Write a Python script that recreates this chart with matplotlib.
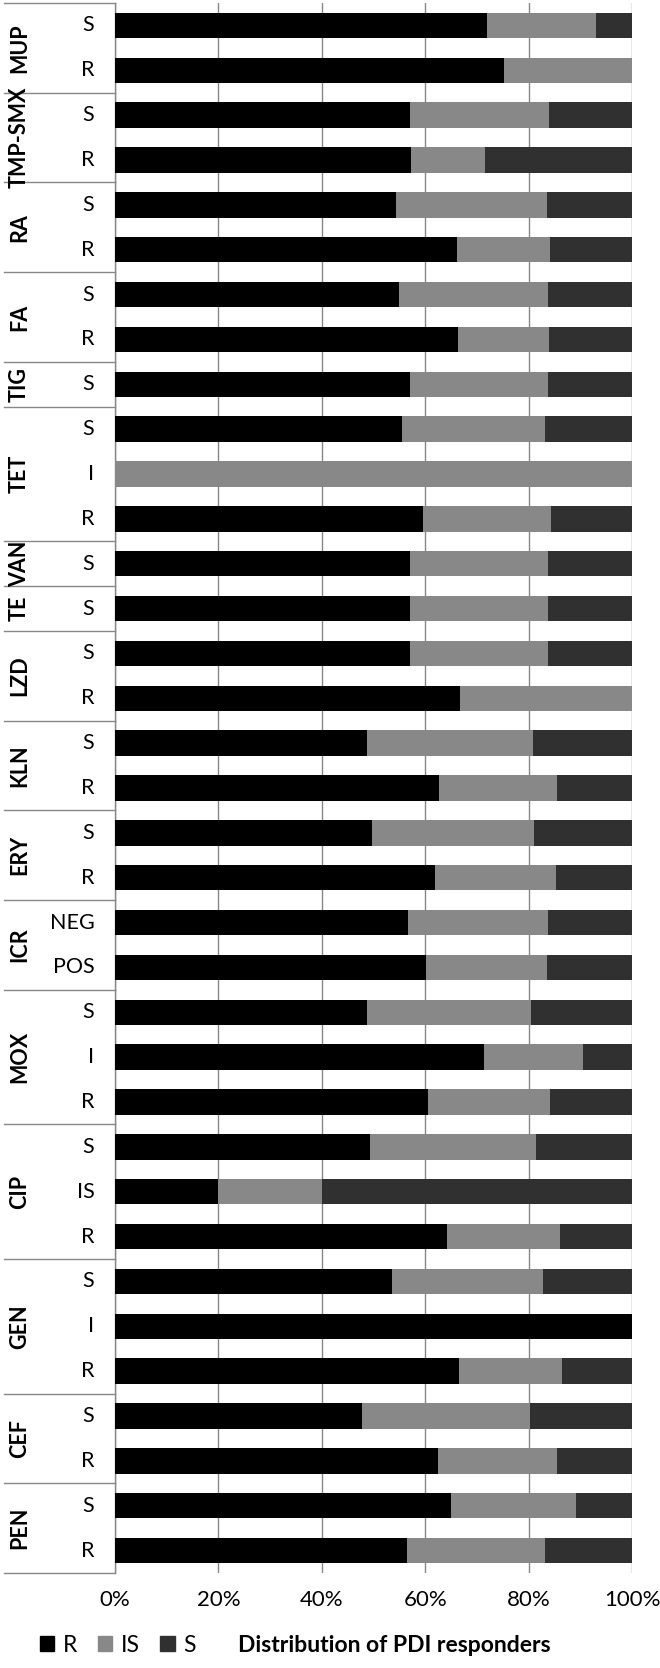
import matplotlib
matplotlib.use("Agg")
import matplotlib.pyplot as plt
from matplotlib.patches import Patch
import matplotlib.transforms as mtransforms

plt.rcParams['font.family'] = ['Lato', 'DejaVu Sans']

# antibiotic groups, top to bottom, with their sub-categories
groups = ["MUP", "TMP-SMX", "RA", "FA", "TIG", "TET", "VAN", "TE", "LZD",
          "KLN", "ERY", "ICR", "MOX", "CIP", "GEN", "CEF", "PEN"]
sub_labels = [["S", "R"], ["S", "R"], ["S", "R"], ["S", "R"], ["S"],
              ["S", "I", "R"], ["S"], ["S"], ["S", "R"], ["S", "R"], ["S", "R"],
              ["NEG", "POS"], ["S", "I", "R"], ["S", "IS", "R"], ["S", "I", "R"],
              ["S", "R"], ["S", "R"]]

# % of PDI responders per row (same order as sub_labels flattened)
r_pct = [72.0, 75.3, 57.0, 57.2, 54.4, 66.2, 54.9, 66.4, 57.0,
         55.6, 0.0, 59.6, 57.0, 57.0, 57.0, 66.8, 48.8, 62.7,
         49.8, 61.9, 56.7, 60.1, 48.7, 71.3, 60.5, 49.3, 20.0, 64.3,
         53.5, 100.0, 66.6, 47.8, 62.5, 65.0, 56.4]
is_pct = [21.1, 24.7, 26.9, 14.3, 29.1, 17.9, 28.8, 17.5, 26.7,
          27.5, 100.0, 24.7, 26.7, 26.7, 26.7, 33.2, 32.0, 22.8,
          31.3, 23.4, 27.0, 23.4, 31.7, 19.2, 23.6, 32.2, 20.0, 21.8,
          29.2, 0.0, 19.8, 32.5, 23.0, 24.2, 26.7]
s_pct = [6.9, 0.0, 16.1, 28.5, 16.5, 15.9, 16.3, 16.1, 16.3,
         16.9, 0.0, 15.7, 16.3, 16.3, 16.3, 0.0, 19.2, 14.5,
         18.9, 14.7, 16.3, 16.5, 19.6, 9.5, 15.9, 18.5, 60.0, 13.9,
         17.3, 0.0, 13.6, 19.7, 14.5, 10.8, 16.9]

x_ticks = [0, 20, 40, 60, 80, 100]
x_tick_labels = ["0%", "20%", "40%", "60%", "80%", "100%"]

c_r = "#000000"
c_is = "#888888"
c_s = "#303030"
grid_c = "#878787"

fig = plt.figure(figsize=(6.6, 16.68), dpi=100)
fig.subplots_adjust(left=115/660, right=632/660, top=1-3/1668, bottom=1-1573/1668)
ax = fig.add_subplot(111)

rows = list(range(len(r_pct)))
h = 0.57
left2 = [a + b for a, b in zip(r_pct, is_pct)]
ax.barh(rows, r_pct, height=h, color=c_r, zorder=3)
ax.barh(rows, is_pct, left=r_pct, height=h, color=c_is, zorder=3)
ax.barh(rows, s_pct, left=left2, height=h, color=c_s, zorder=3)

ax.set_xlim(0, 100)
ax.set_ylim(len(rows) - 0.5, -0.5)
ax.set_xticks(x_ticks)
ax.set_xticklabels(x_tick_labels, fontsize=16)
ax.tick_params(axis='x', length=0, pad=12)
ax.set_yticks([])
ax.grid(axis='x', color=grid_c, linewidth=1.0, zorder=0)
ax.set_axisbelow(True)
for sp in ["top", "right", "bottom"]:
    ax.spines[sp].set_visible(False)
ax.spines["left"].set_color(grid_c)
ax.spines["left"].set_linewidth(1.0)

# multi-level category axis on the left
trans = mtransforms.blended_transform_factory(ax.transAxes, ax.transData)
x_line0 = -0.215
pos = 0
ax.plot([x_line0, 0], [-0.5, -0.5], color=grid_c, lw=1.0, transform=trans, clip_on=False)
for g, subs in zip(groups, sub_labels):
    n = len(subs)
    for i, s in enumerate(subs):
        ax.text(-0.04, pos + i, s, transform=trans, ha="right", va="center", fontsize=15.5)
    ax.text(-0.185, pos + (n - 1) / 2, g, transform=trans, ha="center", va="center",
            rotation=90, fontsize=15.5, fontweight="bold")
    pos += n
    ax.plot([x_line0, 0], [pos - 0.5, pos - 0.5], color=grid_c, lw=1.0,
            transform=trans, clip_on=False)

handles = [Patch(color=c_r, label="R"), Patch(color=c_is, label="IS"), Patch(color=c_s, label="S")]
fig.legend(handles=handles, loc="center left", bbox_to_anchor=(0.06, 1-1645/1668),
           ncol=3, frameon=False, fontsize=16.5, handlelength=0.65, handleheight=0.65,
           handletextpad=0.35, columnspacing=0.9, borderaxespad=0, borderpad=0)
fig.text(0.598, 1-1645/1668, "Distribution of PDI responders", ha="center", va="center",
         fontsize=16.5, fontweight="bold")

fig.savefig("out.png", dpi=100)
